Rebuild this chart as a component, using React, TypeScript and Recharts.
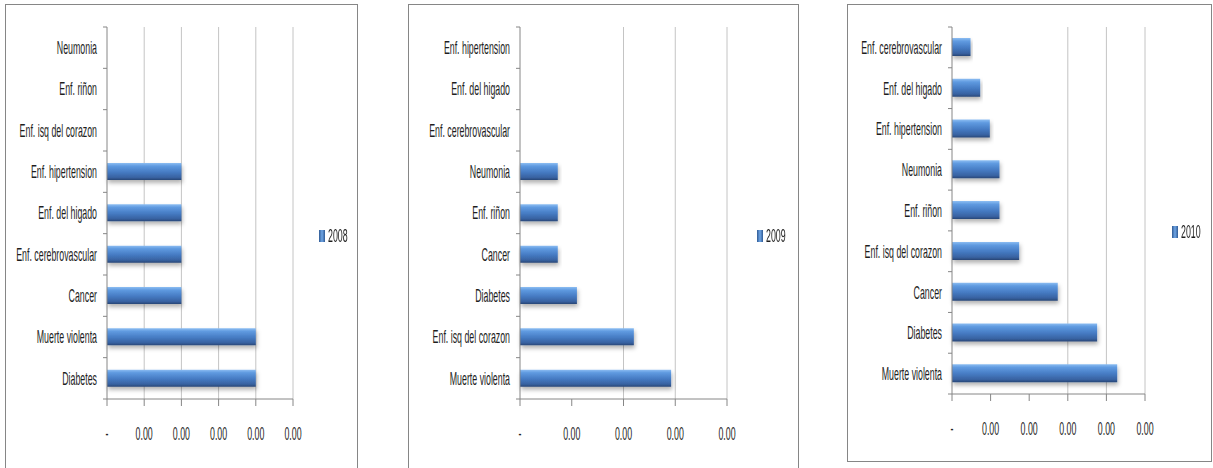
import { BarChart, Bar, XAxis, YAxis, CartesianGrid } from "recharts"

// causes of death per year, listed top to bottom as they appear on each chart
const causes2008 = [
  "Neumonia",
  "Enf. riñon",
  "Enf. isq del corazon",
  "Enf. hipertension",
  "Enf. del higado",
  "Enf. cerebrovascular",
  "Cancer",
  "Muerte violenta",
  "Diabetes",
]
const rates2008 = [0, 0, 0, 0.0002, 0.0002, 0.0002, 0.0002, 0.0004, 0.0004]
const ticks2008 = [0, 0.0001, 0.0002, 0.0003, 0.0004, 0.0005]
const grid2008 = [0.0001, 0.0002, 0.0003, 0.0004, 0.0005]

const causes2009 = [
  "Enf. hipertension",
  "Enf. del higado",
  "Enf. cerebrovascular",
  "Neumonia",
  "Enf. riñon",
  "Cancer",
  "Diabetes",
  "Enf. isq del corazon",
  "Muerte violenta",
]
const rates2009 = [0, 0, 0, 0.000365, 0.000365, 0.000365, 0.00055, 0.0011, 0.00146]
const ticks2009 = [0, 0.0005, 0.001, 0.0015, 0.002]
const grid2009 = [0.001, 0.0015, 0.002]

const causes2010 = [
  "Enf. cerebrovascular",
  "Enf. del higado",
  "Enf. hipertension",
  "Neumonia",
  "Enf. riñon",
  "Enf. isq del corazon",
  "Cancer",
  "Diabetes",
  "Muerte violenta",
]
const rates2010 = [0.00024, 0.000365, 0.00049, 0.000615, 0.000615, 0.00087, 0.00137, 0.00188, 0.00214]
const ticks2010 = [0, 0.0005, 0.001, 0.0015, 0.002, 0.0025]
const grid2010 = [0.0015, 0.002, 0.0025]

const FONT = '"Liberation Sans", Arial, sans-serif'
const FONT_SIZE = 18
const SQUEEZE = 0.49
const TEXT = "#1e1e1e"
const AXIS = "#868686"
const X_AXIS_H = 50

interface Box {
  left: number
  top: number
  width: number
  height: number
  closed: boolean
}
interface Plot {
  left: number
  right: number
  top: number
  bottom: number
}
interface PanelProps {
  id: string
  year: string
  causes: string[]
  rates: number[]
  ticks: number[]
  grid: number[]
  box: Box
  plot: Plot
  legend: { x: number; y: number }
  barSize: number
}

function Squeezed({ x, y, anchor, children }: { x: number; y: number; anchor: "start" | "middle" | "end"; children: any }) {
  return (
    <text
      transform={`translate(${x},${y}) scale(${SQUEEZE},1)`}
      textAnchor={anchor}
      dy="0.36em"
      fontSize={FONT_SIZE}
      fontFamily={FONT}
      fill={TEXT}
    >
      {children}
    </text>
  )
}

function Panel({ id, year, causes, rates, ticks, grid, box, plot, legend, barSize }: PanelProps) {
  const data = causes.map((name, i) => ({ name, rate: rates[i] }))
  const max = ticks[ticks.length - 1]
  const chartH = 468 - box.top
  const axisX = plot.left - box.left
  const plotW = plot.right - plot.left
  const band = (plot.bottom - plot.top) / causes.length
  const labelY = plot.bottom - box.top + 35

  const margin = {
    top: plot.top - box.top,
    right: box.left + box.width - plot.right,
    bottom: chartH - (plot.bottom - box.top) - X_AXIS_H,
    left: 0,
  }

  // category labels with Excel-style tick marks on the band boundaries
  const CauseTick = (props: any) => {
    const { y, payload, index } = props
    const top = y - band / 2
    return (
      <g>
        <line x1={axisX - 4} x2={axisX} y1={top} y2={top} stroke={AXIS} />
        {index === causes.length - 1 && <line x1={axisX - 4} x2={axisX} y1={y + band / 2} y2={y + band / 2} stroke={AXIS} />}
        <Squeezed x={axisX - 10} y={y} anchor="end">
          {payload.value}
        </Squeezed>
      </g>
    )
  }

  const RateTick = (props: any) => {
    const { x, payload } = props
    return (
      <Squeezed x={x} y={labelY} anchor="middle">
        {payload.value === 0 ? "-" : payload.value.toFixed(2)}
      </Squeezed>
    )
  }

  return (
    <>
      <div
        style={{
          position: "absolute",
          left: box.left,
          top: box.top,
          width: box.width,
          height: box.height,
          border: `1px solid ${AXIS}`,
          borderBottom: box.closed ? `1px solid ${AXIS}` : "none",
          boxSizing: "border-box",
        }}
      />
      <div style={{ position: "absolute", left: box.left, top: box.top }}>
        <BarChart width={box.width} height={chartH} data={data} layout="vertical" margin={margin}>
          <defs>
            <linearGradient id={`bar-${id}`} x1="0" y1="0" x2="0" y2="1">
              <stop offset="0%" stopColor="#8cbdf2" />
              <stop offset="18%" stopColor="#5f9ae0" />
              <stop offset="55%" stopColor="#457ac2" />
              <stop offset="85%" stopColor="#3862a1" />
              <stop offset="100%" stopColor="#284676" />
            </linearGradient>
            <filter id={`shadow-${id}`} x="-5%" y="-20%" width="115%" height="180%">
              <feDropShadow dx="1" dy="3" stdDeviation="2" floodColor="#000" floodOpacity="0.3" />
            </filter>
          </defs>
          <CartesianGrid
            horizontal={false}
            stroke="#c4c4c4"
            verticalCoordinatesGenerator={() => grid.map((v) => axisX + (v / max) * plotW)}
          />
          <XAxis
            type="number"
            domain={[0, max]}
            ticks={ticks}
            interval={0}
            height={X_AXIS_H}
            stroke={AXIS}
            tickSize={7}
            tick={<RateTick />}
          />
          <YAxis
            type="category"
            dataKey="name"
            width={axisX}
            interval={0}
            stroke={AXIS}
            tickLine={false}
            tick={<CauseTick />}
          />
          <Bar
            dataKey="rate"
            barSize={barSize}
            fill={`url(#bar-${id})`}
            filter={`url(#shadow-${id})`}
            isAnimationActive={false}
          />
        </BarChart>
      </div>
      <div
        style={{
          position: "absolute",
          left: legend.x,
          top: legend.y - 8,
          height: 16,
          display: "flex",
          alignItems: "center",
          fontFamily: FONT,
          fontSize: FONT_SIZE,
          color: TEXT,
          whiteSpace: "nowrap",
        }}
      >
        <span
          style={{
            display: "inline-block",
            width: 6,
            height: 12,
            background: "linear-gradient(to right, #2f5a94, #6fa6e6 50%, #2f5a94)",
            marginRight: 3,
          }}
        />
        <span style={{ display: "inline-block", transform: `scaleX(${SQUEEZE})`, transformOrigin: "left center" }}>{year}</span>
      </div>
    </>
  )
}

export default function App() {
  return (
    <div
      style={{
        position: "absolute",
        left: 0,
        top: 0,
        width: 1213,
        height: 468,
        background: "#fff",
        overflow: "hidden",
      }}
    >
      <Panel
        id="y2008"
        year="2008"
        causes={causes2008}
        rates={rates2008}
        ticks={ticks2008}
        grid={grid2008}
        box={{ left: 5, top: 4, width: 353, height: 470, closed: false }}
        plot={{ left: 107, right: 293, top: 27, bottom: 399 }}
        legend={{ x: 319, y: 236 }}
        barSize={17}
      />
      <Panel
        id="y2009"
        year="2009"
        causes={causes2009}
        rates={rates2009}
        ticks={ticks2009}
        grid={grid2009}
        box={{ left: 408, top: 4, width: 391, height: 470, closed: false }}
        plot={{ left: 520, right: 727, top: 27, bottom: 399 }}
        legend={{ x: 757, y: 236 }}
        barSize={17}
      />
      <Panel
        id="y2010"
        year="2010"
        causes={causes2010}
        rates={rates2010}
        ticks={ticks2010}
        grid={grid2010}
        box={{ left: 847, top: 4, width: 365, height: 458, closed: true }}
        plot={{ left: 952, right: 1145, top: 27, bottom: 394 }}
        legend={{ x: 1172, y: 232 }}
        barSize={18}
      />
    </div>
  )
}
